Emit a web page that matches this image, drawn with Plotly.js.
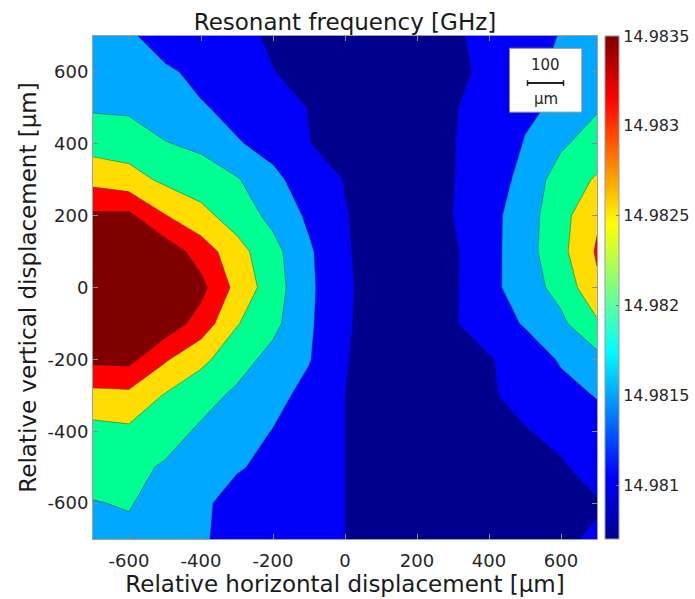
<!DOCTYPE html>
<html>
<head>
<meta charset="utf-8">
<script src="https://cdn.plot.ly/plotly-3.0.1.min.js"></script>
<style>
  html, body { margin: 0; padding: 0; background: #ffffff; }
  #chart { width: 695px; height: 599px; }
</style>
</head>
<body>
<div id="chart"></div>
<script>
// Horizontal positions of the measurement grid [μm]
const xPos = [-700, -600, -500, -400, -300, -200, -100, 0, 100, 200, 300, 400, 500, 600, 700];
// Vertical positions of the measurement grid [μm] (top row first)
const yPos = [700, 600, 500, 400, 300, 200, 100, 0, -100, -200, -300, -400, -500, -600, -700];

// Resonant frequency [GHz], one row per vertical position (top row first)
const freq = [
  [14.98174, 14.98158, 14.98126, 14.98122, 14.98118, 14.98106, 14.98098, 14.98090, 14.98086, 14.98090, 14.98106, 14.98118, 14.98134, 14.98152, 14.98170],
  [14.98182, 14.98172, 14.98158, 14.98138, 14.98126, 14.981108, 14.98102, 14.98094, 14.98086, 14.98090, 14.98104, 14.98116, 14.98140, 14.98158, 14.98178],
  [14.98186, 14.98184, 14.98170, 14.98154, 14.98138, 14.98124, 14.981092, 14.98098, 14.98086, 14.98088, 14.98108, 14.98122, 14.98144, 14.98156, 14.98186],
  [14.98214, 14.98210, 14.98192, 14.98182, 14.981532, 14.98138, 14.981108, 14.98100, 14.98086, 14.98086, 14.981088, 14.98126, 14.98152, 14.98184, 14.98210],
  [14.98258, 14.98246, 14.98222, 14.98210, 14.981936, 14.981588, 14.981324, 14.981088, 14.98086, 14.98088, 14.981092, 14.98130, 14.98162, 14.98210, 14.98234],
  [14.983164, 14.98318, 14.98272, 14.982416, 14.98212, 14.981792, 14.981432, 14.981116, 14.98098, 14.98090, 14.981104, 14.981368, 14.98172, 14.98216, 14.98264],
  [14.98346, 14.98342, 14.98334, 14.982924, 14.982444, 14.982032, 14.981556, 14.981156, 14.98086, 14.98086, 14.981048, 14.981368, 14.981736, 14.982188, 14.982748],
  [14.98350, 14.98346, 14.98334, 14.983212, 14.98258, 14.982088, 14.981572, 14.981192, 14.98084, 14.98082, 14.981052, 14.981368, 14.98174, 14.98202, 14.982632],
  [14.98346, 14.98338, 14.98334, 14.98294, 14.982324, 14.982008, 14.981556, 14.981172, 14.98084, 14.98082, 14.981068, 14.98130, 14.981536, 14.981824, 14.98224],
  [14.983192, 14.983216, 14.982748, 14.982396, 14.98206, 14.981772, 14.981524, 14.98114, 14.98082, 14.98082, 14.98094, 14.981072, 14.98128, 14.98154, 14.98178],
  [14.982576, 14.98260, 14.982272, 14.982044, 14.981828, 14.98162, 14.981384, 14.981104, 14.98082, 14.98082, 14.98086, 14.98106, 14.98122, 14.98138, 14.98152],
  [14.982172, 14.982224, 14.98206, 14.98184, 14.981664, 14.981488, 14.981296, 14.981104, 14.98082, 14.98080, 14.98086, 14.98094, 14.98108, 14.98120, 14.981352],
  [14.98202, 14.98200, 14.98186, 14.98168, 14.981528, 14.98142, 14.98128, 14.981104, 14.98082, 14.98078, 14.98082, 14.98090, 14.98094, 14.98106, 14.98124],
  [14.981888, 14.98192, 14.981776, 14.98156, 14.98138, 14.98128, 14.98120, 14.981104, 14.98082, 14.98078, 14.98078, 14.98082, 14.98090, 14.98098, 14.981076],
  [14.98170, 14.981836, 14.98172, 14.98154, 14.98138, 14.98130, 14.98122, 14.981104, 14.98082, 14.98078, 14.98078, 14.98082, 14.98090, 14.98106, 14.981136]
];

// Contour levels [GHz]
const levelStart = 14.9811;
const levelEnd = 14.9831;
const levelStep = 0.0004;

// Colour-bar range and ticks [GHz]
const cbMin = 14.9807;
const cbMax = 14.9835;
const cbTickVals = [14.981, 14.9815, 14.982, 14.9825, 14.983, 14.9835];
const cbTickText = ['14.981', '14.9815', '14.982', '14.9825', '14.983', '14.9835'];

// Axis ticks
const xTickVals = [-600, -400, -200, 0, 200, 400, 600];
const xTickText = ['-600', '-400', '-200', '0', '200', '400', '600'];
const yTickVals = [-600, -400, -200, 0, 200, 400, 600];
const yTickText = ['-600', '-400', '-200', '0', '200', '400', '600'];

// Fill colour of each band, lowest first
const bandColors = ['#00008C', '#0000FA', '#00A8FF', '#00FF91', '#FFDD00', '#FF0000', '#800000'];
const bandScale = bandColors.map((c, i) => [i / (bandColors.length - 1), c]);

// MATLAB-style jet colour map for the colour bar
const jet = [
  [0, 'rgb(0,0,143)'], [0.125, 'rgb(0,0,255)'], [0.375, 'rgb(0,255,255)'],
  [0.625, 'rgb(255,255,0)'], [0.875, 'rgb(255,0,0)'], [1, 'rgb(128,0,0)']
];

const FONT = 'DejaVu Sans, Verdana, sans-serif';
const TXT = '#262626';

const contourTrace = {
  type: 'contour',
  x: xPos,
  y: yPos,
  z: freq,
  autocontour: false,
  contours: { start: levelStart, end: levelEnd, size: levelStep, coloring: 'fill', showlines: true },
  colorscale: bandScale,
  showscale: false,
  line: { color: 'rgba(20,20,20,0.6)', width: 0.6, smoothing: 0 },
  hoverinfo: 'x+y+z'
};

const colorbarTrace = {
  type: 'scatter',
  mode: 'markers',
  x: [null],
  y: [null],
  hoverinfo: 'skip',
  showlegend: false,
  marker: {
    color: [cbMin],
    cmin: cbMin,
    cmax: cbMax,
    colorscale: jet,
    showscale: true,
    colorbar: {
      x: 1.0159, xanchor: 'left', xref: 'paper',
      y: 0.5, yanchor: 'middle', yref: 'paper',
      len: 1, lenmode: 'fraction',
      thickness: 14, thicknessmode: 'pixels',
      xpad: 0, ypad: 0,
      outlinewidth: 1, outlinecolor: '#9a9a9a',
      tickvals: cbTickVals, ticktext: cbTickText,
      ticks: 'inside', ticklen: 3, tickcolor: '#777',
      tickfont: { family: FONT, size: 16, color: TXT }
    }
  }
};

const axisCommon = {
  range: [-700, 700],
  ticks: 'inside',
  ticklen: 5,
  tickcolor: '#8a8a8a',
  showline: true,
  linecolor: '#a0a0a0',
  linewidth: 1,
  mirror: 'ticks',
  zeroline: false,
  showgrid: false,
  automargin: false,
  tickfont: { family: FONT, size: 18, color: TXT }
};

const layout = {
  width: 695,
  height: 599,
  margin: { l: 93, r: 98, t: 36, b: 60, autoexpand: false },
  paper_bgcolor: '#ffffff',
  plot_bgcolor: '#ffffff',
  showlegend: false,
  title: {
    text: 'Resonant frequency [GHz]',
    font: { family: FONT, size: 23, color: '#1a1a1a' },
    x: 0.5, xref: 'paper', xanchor: 'center',
    y: 0.963, yref: 'container', yanchor: 'middle'
  },
  xaxis: Object.assign({}, axisCommon, {
    tickvals: xTickVals, ticktext: xTickText,
    ticklabelstandoff: 5,
    title: { text: 'Relative horizontal displacement [μm]', font: { family: FONT, size: 23, color: '#1a1a1a' }, standoff: 4 }
  }),
  yaxis: Object.assign({}, axisCommon, {
    tickvals: yTickVals, ticktext: yTickText,
    title: { text: 'Relative vertical displacement [μm]', font: { family: FONT, size: 23, color: '#1a1a1a' }, standoff: 4 }
  }),
  shapes: [
    { type: 'rect', xref: 'x', yref: 'y', x0: 457, x1: 658, y0: 488, y1: 666,
      fillcolor: '#ffffff', line: { color: '#8a8a8a', width: 1 }, layer: 'above' },
    { type: 'line', xref: 'x', yref: 'y', x0: 507, x1: 607, y0: 569, y1: 569,
      line: { color: '#222', width: 2 }, layer: 'above' },
    { type: 'line', xref: 'x', yref: 'y', x0: 507, x1: 507, y0: 561, y1: 577,
      line: { color: '#222', width: 1.5 }, layer: 'above' },
    { type: 'line', xref: 'x', yref: 'y', x0: 607, x1: 607, y0: 561, y1: 577,
      line: { color: '#222', width: 1.5 }, layer: 'above' }
  ],
  annotations: [
    { xref: 'x', yref: 'y', x: 557, y: 619, text: '100', showarrow: false,
      font: { family: FONT, size: 15, color: TXT }, xanchor: 'center', yanchor: 'middle' },
    { xref: 'x', yref: 'y', x: 557, y: 524, text: 'μm', showarrow: false,
      font: { family: FONT, size: 15, color: TXT }, xanchor: 'center', yanchor: 'middle' }
  ]
};

Plotly.newPlot('chart', [contourTrace, colorbarTrace], layout, { displayModeBar: false, staticPlot: true });
</script>
</body>
</html>
